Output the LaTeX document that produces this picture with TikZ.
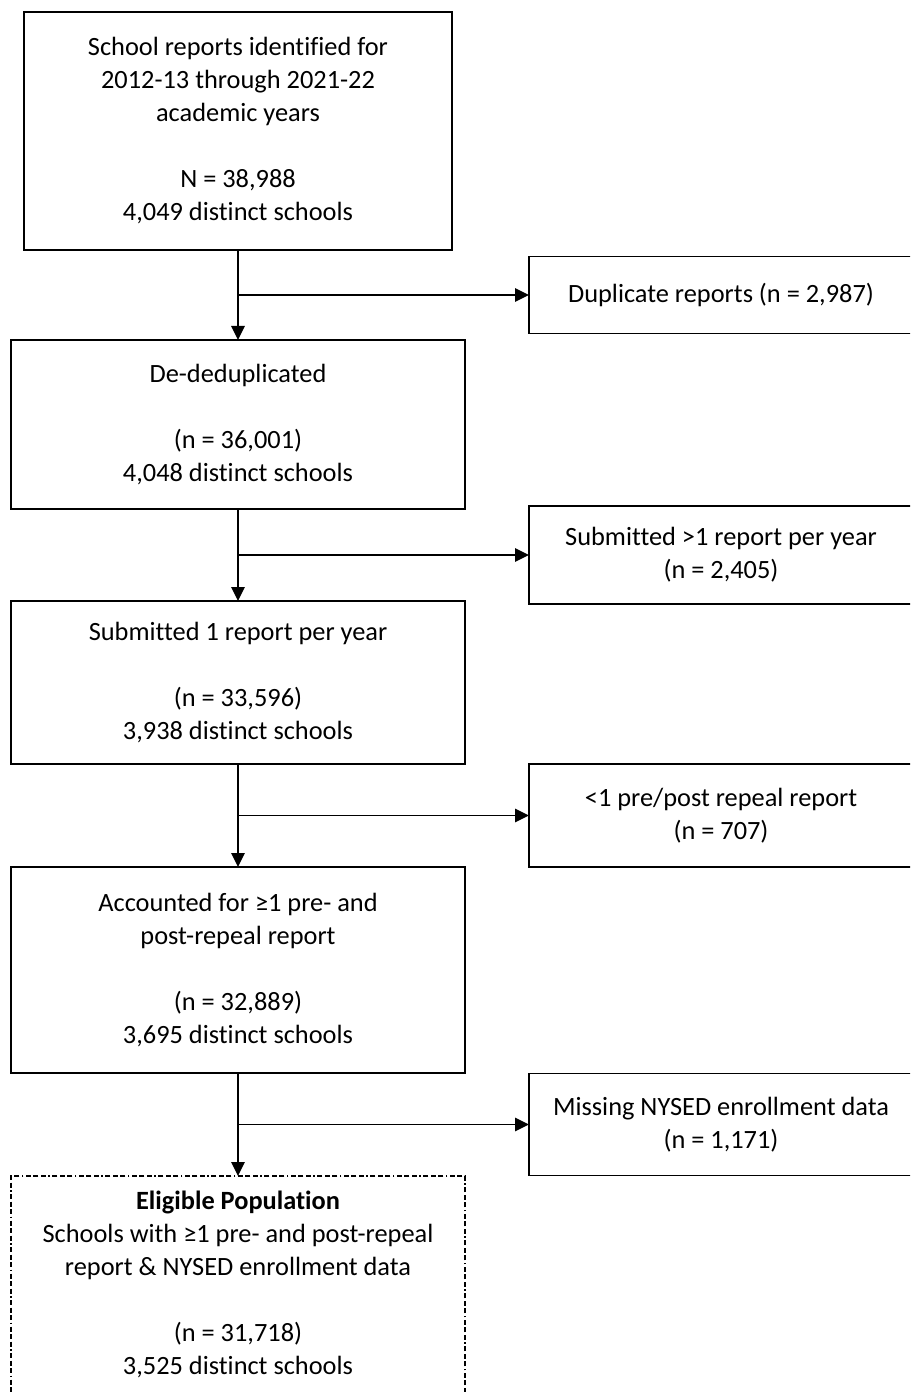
\documentclass[tikz,border=0pt]{standalone}
\usepackage{fontspec}
\setmainfont[Ligatures=CommonOff]{Carlito}
\usetikzlibrary{positioning}
\usetikzlibrary{calc}
\usetikzlibrary{arrows.meta}

\begin{document}
\begin{tikzpicture}[font=\fontsize{15}{18.78}\selectfont,
  mainbox/.style={draw, line width=1.1pt, align=center, minimum width=9.08cm, outer sep=0pt},
  sidebox/.style={draw, line width=1.1pt, align=center, minimum width=7.68cm, outer sep=0pt},
  eligbox/.style={draw, line width=0.9pt, minimum width=9.08cm, minimum height=4.8cm, outer sep=0pt,
    dash pattern=on 0.1cm off 0.05cm on 0.1cm off 0.05cm on 0.1cm off 0.05cm on 0.03cm off 0.05cm},
  flow/.style={line width=0.9pt, -{Triangle[length=0.28cm,width=0.27cm]}}]
\useasboundingbox (0,0) rectangle (18.2,-27.84);
\clip (0,0) rectangle (18.2,-27.84);

\node[mainbox, minimum width=8.56cm, minimum height=4.76cm] (reports) at (4.76,-2.62)
  {School reports identified for\\2012-13 through 2021-22\\academic years\\[0.66cm]N = 38,988\\4,049 distinct schools};
\node[mainbox, minimum height=3.38cm, below=1.8cm of reports] (dedup)
  {De-deduplicated\\[0.66cm](n = 36,001)\\4,048 distinct schools};
\node[mainbox, minimum height=3.26cm, below=1.84cm of dedup] (oneper)
  {Submitted 1 report per year\\[0.66cm](n = 33,596)\\3,938 distinct schools};
\node[mainbox, minimum height=4.12cm, below=2.06cm of oneper] (prepost)
  {Accounted for ≥1 pre- and\\post-repeal report\\[0.66cm](n = 32,889)\\3,695 distinct schools};
\node[eligbox, below=2.06cm of prepost] (elig) {};
\node[align=center, below=0.18cm of elig.north] (eligtext)
  {\textbf{Eligible Population}\\Schools with ≥1 pre- and post-repeal\\report \& NYSED enrollment data\\[0.66cm](n = 31,718)\\3,525 distinct schools};

\coordinate (aux1) at ($(reports.south)!0.5!(dedup.north)$);
\coordinate (aux2) at ($(dedup.south)!0.5!(oneper.north)$);
\coordinate (aux3) at ($(oneper.south)!0.5!(prepost.north)$);
\coordinate (aux4) at ($(prepost.south)!0.5!(elig.north)$);

\node[sidebox, minimum height=1.54cm, right=5.82cm of aux1] (dup) {Duplicate reports (n = 2,987)};
\node[sidebox, minimum height=1.96cm, right=5.82cm of aux2] (multi) {Submitted >1 report per year\\(n = 2,405)};
\node[sidebox, minimum height=2.06cm, right=5.82cm of aux3] (norepeal) {<1 pre/post repeal report\\(n = 707)};
\node[sidebox, minimum height=2.04cm, right=5.82cm of aux4] (noenrol) {Missing NYSED enrollment data\\(n = 1,171)};

\draw[flow] (reports) -- (dedup);
\draw[flow] (dedup) -- (oneper);
\draw[flow] (oneper) -- (prepost);
\draw[flow] (prepost) -- (elig);
\draw[flow] (aux1) -- (dup);
\draw[flow] (aux2) -- (multi);
\draw[flow] (aux3) -- (norepeal);
\draw[flow] (aux4) -- (noenrol);
\end{tikzpicture}
\end{document}
